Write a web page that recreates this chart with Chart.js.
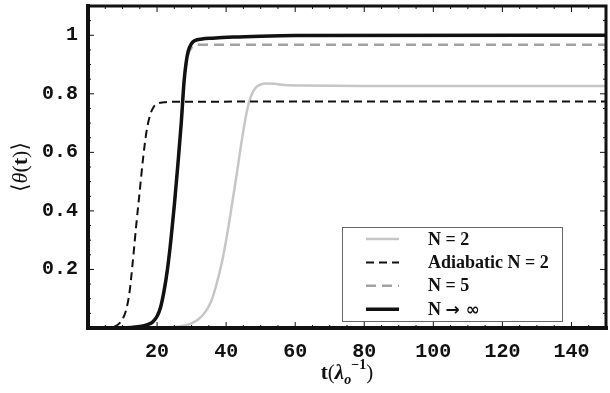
<!DOCTYPE html>
<html>
<head>
<meta charset="utf-8">
<script src="https://cdn.jsdelivr.net/npm/chart.js@4"></script>
<style>
  body { margin: 0; background: #fff; }
</style>
</head>
<body>
<canvas id="myChart" width="610" height="393"></canvas>
<script>
// tick positions
var xTicks = [20, 40, 60, 80, 100, 120, 140];
var yTicks = [0.2, 0.4, 0.6, 0.8, 1];

// N = 2
var tN2 = [0, 15, 20, 24, 28, 30, 32, 34, 35.7, 37, 38.6, 40, 41, 42, 43, 44, 45, 46, 47, 48, 49, 50, 51.5, 54, 57, 62, 80, 150];
var vN2 = [0, 0, 0.001, 0.003, 0.009, 0.016, 0.03, 0.055, 0.092, 0.14, 0.215, 0.3, 0.37, 0.445, 0.52, 0.6, 0.675, 0.74, 0.785, 0.812, 0.826, 0.832, 0.835, 0.834, 0.83, 0.828, 0.827, 0.827];

// adiabatic N = 2
var tAd = [0, 5, 7, 8, 9, 10, 11, 12, 13, 14, 15, 16, 17, 18, 19, 20, 22, 26, 150];
var vAd = [0, 0, 0.002, 0.006, 0.015, 0.03, 0.06, 0.12, 0.23, 0.355, 0.47, 0.585, 0.675, 0.728, 0.755, 0.766, 0.771, 0.773, 0.774];

// N = 5
var tN5 = [0, 10, 15, 17, 18.7, 20, 21, 22, 23, 24, 25, 26, 27, 27.8, 28.4, 29, 30, 31, 33, 150];
var vN5 = [0, 0, 0.005, 0.011, 0.02, 0.04, 0.07, 0.125, 0.2, 0.3, 0.42, 0.555, 0.7, 0.84, 0.9, 0.935, 0.958, 0.965, 0.968, 0.968];

// N -> infinity
var tInf = [0, 10, 15, 17, 18.7, 20, 21, 22, 23, 24, 25, 26, 27, 27.8, 28.4, 29, 30, 31, 33, 36, 42, 50, 60, 150];
var vInf = [0, 0, 0.005, 0.011, 0.02, 0.04, 0.07, 0.125, 0.2, 0.3, 0.42, 0.555, 0.7, 0.84, 0.905, 0.945, 0.972, 0.982, 0.987, 0.99, 0.994, 0.997, 0.999, 1.0];

function pts(t, v){
    var out = [];
    for(var i = 0; i < t.length; i++){
        out.push({x: t[i], y: v[i]});
    }
    return out;
}

var serif = '"Liberation Serif", "Times New Roman", "DejaVu Serif", serif';
var mono = '"Liberation Mono", "Courier New", monospace';

// frame, inward ticks, tick labels, axis titles
var framePlugin = {
    id: 'frame',
    afterDatasetsDraw: function(chart){
        var c = chart.ctx, a = chart.chartArea;
        var xs = chart.scales.x, ys = chart.scales.y;
        c.save();
        c.strokeStyle = '#111';
        c.lineWidth = 1;
        c.beginPath();
        for(var t = 5; t < 150; t += 5){
            var px = xs.getPixelForValue(t);
            var len = (t % 20 === 0) ? 6 : 3;
            c.moveTo(px, a.bottom); c.lineTo(px, a.bottom - len);
            c.moveTo(px, a.top); c.lineTo(px, a.top + len);
        }
        for(var k = 1; k <= 21; k++){
            var py = ys.getPixelForValue(k * 0.05);
            var l2 = (k % 4 === 0) ? 6 : 3;
            c.moveTo(a.left, py); c.lineTo(a.left + l2, py);
            c.moveTo(a.right, py); c.lineTo(a.right - l2, py);
        }
        c.stroke();

        // heavier left/bottom axes, lighter top/right
        c.lineCap = 'square';
        c.lineWidth = 3;
        c.beginPath();
        c.moveTo(a.left, a.top); c.lineTo(a.right, a.top); c.lineTo(a.right, a.bottom);
        c.stroke();
        c.lineWidth = 4;
        c.beginPath();
        c.moveTo(a.left, a.top); c.lineTo(a.left, a.bottom); c.lineTo(a.right, a.bottom);
        c.stroke();

        c.fillStyle = '#111';
        c.font = 'bold 20px ' + mono;
        c.textAlign = 'center';
        c.textBaseline = 'top';
        xTicks.forEach(function(v){
            c.fillText(String(v), xs.getPixelForValue(v), a.bottom + 14);
        });
        c.textAlign = 'right';
        c.textBaseline = 'middle';
        yTicks.forEach(function(v){
            c.fillText(String(v), a.left - 10, ys.getPixelForValue(v));
        });

        // x title: t(λo^-1)
        var parts = [
            {s: 't', f: 'bold 21px ' + serif, dy: 0},
            {s: '(', f: '21px ' + serif, dy: 0},
            {s: 'λ', f: 'bold italic 21px ' + serif, dy: 0},
            {s: 'o', f: 'bold italic 14px ' + serif, dy: 5},
            {s: '−1', f: 'bold 14px ' + serif, dy: -10},
            {s: ')', f: '21px ' + serif, dy: 0}
        ];
        var total = 0;
        parts.forEach(function(p){ c.font = p.f; p.w = c.measureText(p.s).width; total += p.w; });
        var cx = (a.left + a.right) / 2 - total / 2;
        var base = 379;
        c.textAlign = 'left';
        c.textBaseline = 'alphabetic';
        parts.forEach(function(p){
            c.font = p.f;
            c.fillText(p.s, cx, base + p.dy);
            cx += p.w;
        });

        // y title: ⟨θ(t)⟩
        var yp = [
            {s: '⟨', f: '22px ' + serif},
            {s: 'θ', f: 'italic 22px ' + serif},
            {s: '(', f: '22px ' + serif},
            {s: 't', f: 'bold 22px ' + serif},
            {s: ')', f: '22px ' + serif},
            {s: '⟩', f: '22px ' + serif}
        ];
        var tw = 0;
        yp.forEach(function(p){ c.font = p.f; p.w = c.measureText(p.s).width; tw += p.w; });
        c.translate(27, (a.top + a.bottom) / 2);
        c.rotate(-Math.PI / 2);
        var cx2 = -tw / 2;
        yp.forEach(function(p){
            c.font = p.f;
            c.fillText(p.s, cx2, 0);
            cx2 += p.w;
        });
        c.restore();
    }
};

// boxed legend inside the plot
var legendPlugin = {
    id: 'boxLegend',
    afterDatasetsDraw: function(chart){
        var c = chart.ctx, a = chart.chartArea;
        var bx = a.right - 264, by = a.bottom - 101, bw = 220, bh = 94;
        c.save();
        c.fillStyle = '#fff';
        c.fillRect(bx, by, bw, bh);
        c.strokeStyle = '#666';
        c.lineWidth = 1;
        c.strokeRect(bx + 0.5, by + 0.5, bw, bh);
        chart.data.datasets.forEach(function(ds, i){
            var y = by + 12 + i * 23.4;
            c.strokeStyle = ds.borderColor;
            c.lineWidth = ds.borderWidth;
            c.setLineDash(ds.borderDash || []);
            c.beginPath();
            c.moveTo(bx + 24, y);
            c.lineTo(bx + 57, y);
            c.stroke();
            c.setLineDash([]);
            c.fillStyle = '#111';
            c.textAlign = 'left';
            c.textBaseline = 'middle';
            var x = bx + 86;
            var arrow = ds.label.indexOf('→');
            if(arrow < 0){
                c.font = 'bold 18px ' + serif;
                c.fillText(ds.label, x, y + 1);
            } else {
                // symbols set in a font that carries them at full size
                c.font = 'bold 18px ' + serif;
                var head = ds.label.slice(0, arrow);
                c.fillText(head, x, y + 1);
                x += c.measureText(head).width;
                c.font = 'bold 17px "DejaVu Sans", sans-serif';
                c.fillText(ds.label.slice(arrow), x, y + 1);
            }
        });
        c.restore();
    }
};

// lower order is drawn on top: N -> inf over everything
var ctx = document.getElementById('myChart');
var myChart = new Chart(ctx, {
    type: 'line',
    data: {
        datasets: [{
            label: 'N = 2',
            data: pts(tN2, vN2),
            borderColor: '#c6c6c6',
            borderWidth: 2.5,
            order: 3
        }, {
            label: 'Adiabatic N = 2',
            data: pts(tAd, vAd),
            borderColor: '#111',
            borderWidth: 2,
            borderDash: [8, 5],
            order: 1
        }, {
            label: 'N = 5',
            data: pts(tN5, vN5),
            borderColor: '#a2a2a2',
            borderWidth: 2.5,
            borderDash: [10, 6],
            order: 2
        }, {
            label: 'N → ∞',
            data: pts(tInf, vInf),
            borderColor: '#111',
            borderWidth: 3.5,
            order: 0
        }]
    },
    options: {
        responsive: false,
        animation: false,
        layout: { padding: { left: 88, right: 4, top: 6, bottom: 65 } },
        elements: {
            point: { radius: 0 },
            line: { cubicInterpolationMode: 'monotone', fill: false }
        },
        plugins: {
            legend: { display: false },
            tooltip: { enabled: false }
        },
        scales: {
            x: {
                type: 'linear',
                min: 0,
                max: 150,
                grid: { display: false, drawTicks: false },
                border: { display: false },
                ticks: { display: false }
            },
            y: {
                min: 0,
                max: 1.1,
                grid: { display: false, drawTicks: false },
                border: { display: false },
                ticks: { display: false }
            }
        }
    },
    plugins: [framePlugin, legendPlugin]
});
</script>
</body>
</html>
